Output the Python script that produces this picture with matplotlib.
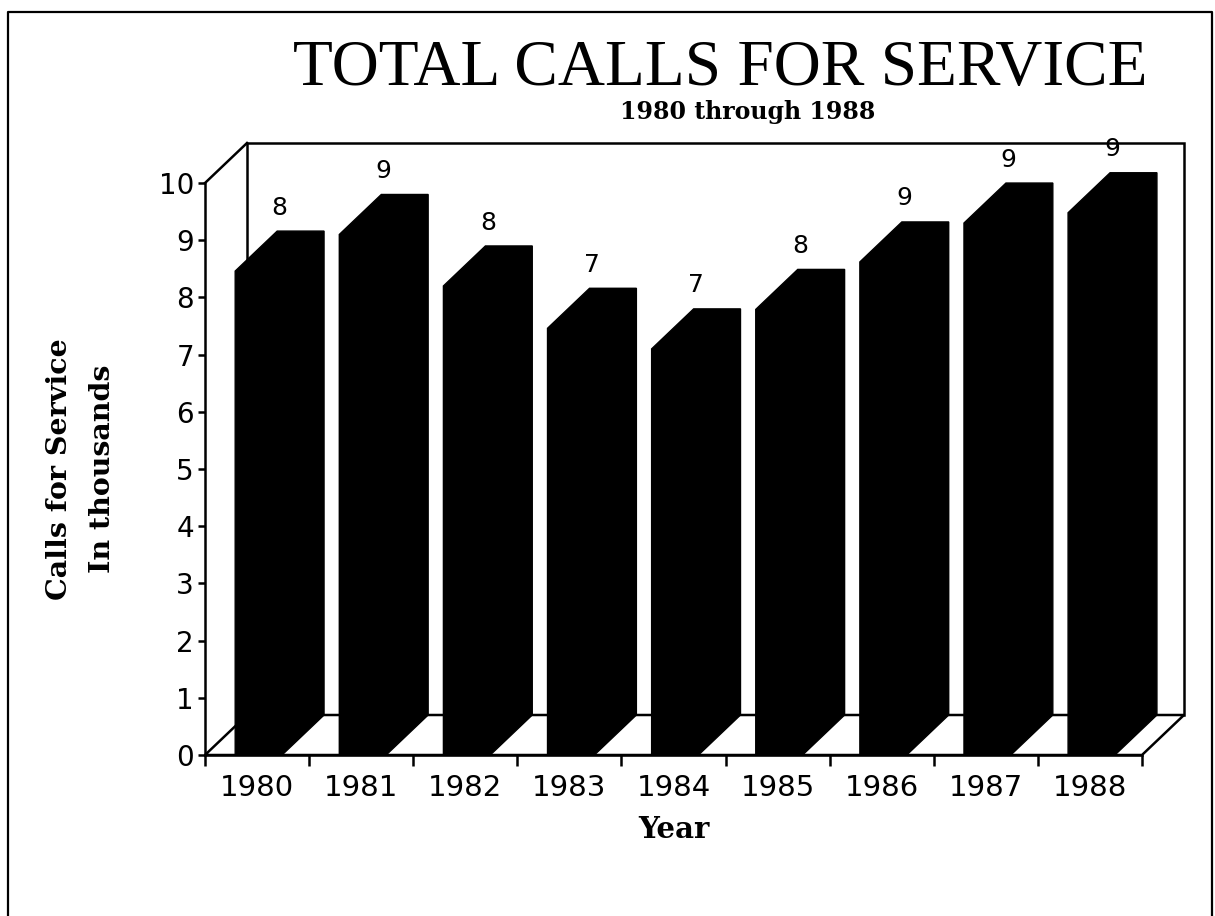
import matplotlib
matplotlib.use('Agg')
import matplotlib.pyplot as plt
from matplotlib.patches import Polygon
from matplotlib.lines import Line2D

# ---- data ----
years = ['1980', '1981', '1982', '1983', '1984', '1985', '1986', '1987', '1988']
calls = [8.46, 9.10, 8.20, 7.46, 7.10, 7.79, 8.62, 9.30, 9.48]
value_labels = ['8', '9', '8', '7', '7', '8', '9', '9', '9']
y_ticks = list(range(0, 11))

title = 'TOTAL CALLS FOR SERVICE'
subtitle = '1980 through 1988'
x_title = 'Year'
y_title = 'Calls for Service\nIn thousands'

# ---- figure ----
W, H = 1215, 916
fig = plt.figure(figsize=(W / 100, H / 100), dpi=100)
fig.patch.set_facecolor('white')

x0, x1 = 205, 1142
y0, y1 = 755, 183
ax = fig.add_axes([x0 / W, (H - y0) / H, (x1 - x0) / W, (y0 - y1) / H])
n = len(years)
ax.set_xlim(0, n)
ax.set_ylim(0, 10)

px_x = (x1 - x0) / n          # pixels per category
px_y = (y0 - y1) / 10.0       # pixels per unit
DX = 42 / px_x                # depth offset (data units)
DY = 40 / px_y
OFF, BW = 0.29, 0.45          # bar front face offset / width
LW = 1.8

# floor
floor = Polygon([(0, 0), (DX, DY), (n + DX, DY), (n, 0)], closed=True,
                facecolor='white', edgecolor='black', lw=LW, clip_on=False, zorder=1)
ax.add_patch(floor)
# back and side wall lines
ax.plot([DX, DX, n + DX, n + DX], [DY, 10 + DY, 10 + DY, DY], color='black',
        lw=LW, clip_on=False, zorder=1, solid_joinstyle='miter')
ax.plot([0, DX], [10, 10 + DY], color='black', lw=LW, clip_on=False, zorder=1)

# bars (front, top and side faces all solid black)
for i, v in enumerate(calls):
    L = i + OFF
    R = L + BW
    poly = Polygon([(L, 0), (L, v), (L + DX, v + DY), (R + DX, v + DY),
                    (R + DX, DY), (R, 0)], closed=True, facecolor='black',
                   edgecolor='black', lw=1.0, clip_on=False, zorder=3)
    ax.add_patch(poly)
    ax.text(L + BW / 2 + DX / 2, v + DY + 0.2, value_labels[i], ha='center',
            va='bottom', fontsize=18, family='DejaVu Sans', zorder=4)

# spines
for s in ['top', 'right']:
    ax.spines[s].set_visible(False)
for s in ['left', 'bottom']:
    ax.spines[s].set_linewidth(LW)
    ax.spines[s].set_zorder(2)

ax.set_yticks(y_ticks)
ax.set_yticklabels([str(t) for t in y_ticks])
ax.tick_params(axis='y', direction='out', length=5, width=LW, labelsize=20, pad=3)
for lab in ax.get_yticklabels():
    lab.set_family('DejaVu Sans')

ax.set_xticks(range(n + 1))
ax.set_xticklabels([])
ax.tick_params(axis='x', which='major', direction='out', length=8, width=LW)
ax.set_xticks([i + 0.5 for i in range(n)], minor=True)
ax.set_xticklabels(years, minor=True)
ax.tick_params(axis='x', which='minor', length=0, pad=14, labelsize=21)
for lab in ax.get_xticklabels(minor=True):
    lab.set_family('DejaVu Sans')

ax.set_xlabel(x_title, fontsize=21, fontweight='bold', family='DejaVu Serif')
ax.xaxis.label.set_va('baseline')
ax.xaxis.set_label_coords(0.5, (y0 - 838) / (y0 - y1))

ax.set_ylabel(y_title, fontsize=20.5, fontweight='bold', family='DejaVu Serif',
              linespacing=1.8, multialignment='center')
ax.yaxis.label.set_va('center')
ax.yaxis.set_label_coords((81 - x0) / (x1 - x0), 0.5)

# titles
fig.text(720 / W, 1 - 85 / H, title, ha='center', va='baseline', fontsize=47,
         family='Liberation Serif')
fig.text(748 / W, 1 - 119 / H, subtitle, ha='center', va='baseline', fontsize=17,
         fontweight='bold', family='DejaVu Serif')

# outer frame
fx = [8 / W, 8 / W, 1212 / W, 1212 / W]
fy = [0, 1 - 12 / H, 1 - 12 / H, 0]
fig.add_artist(Line2D(fx, fy, transform=fig.transFigure, color='black', lw=1.6))

fig.savefig('out.png', dpi=100)
